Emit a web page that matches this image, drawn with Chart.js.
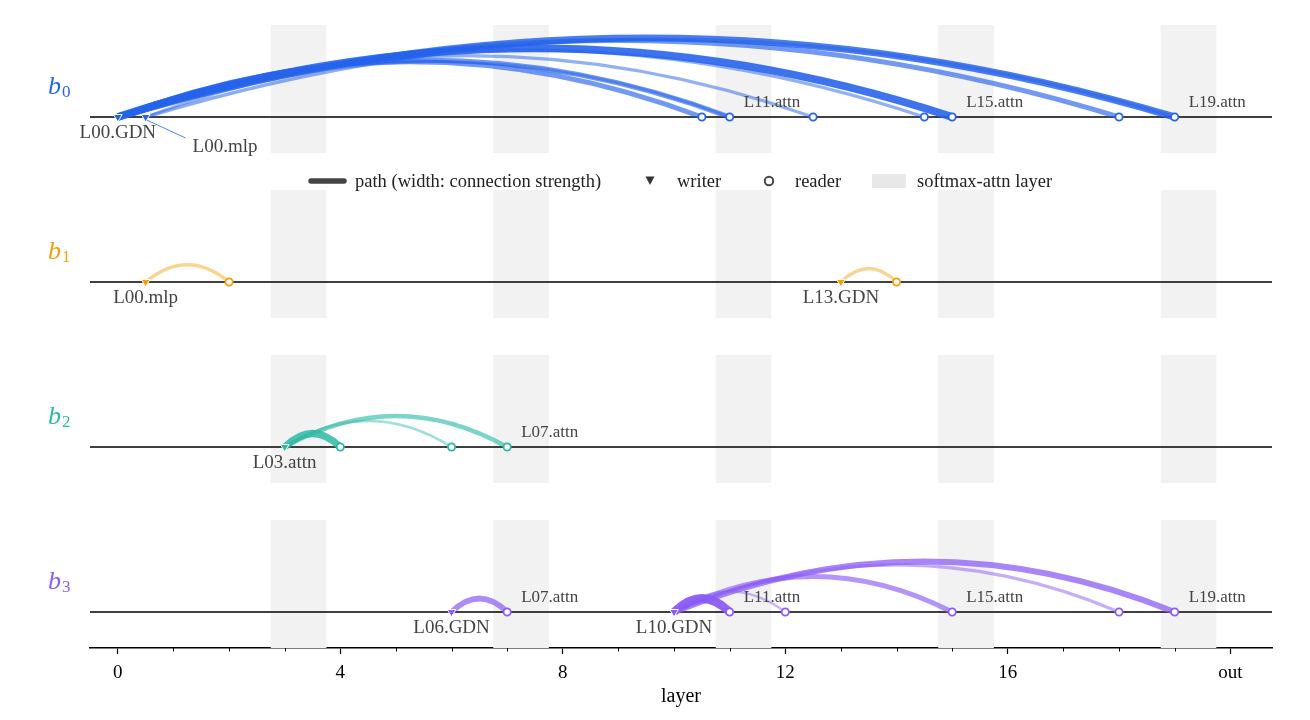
<!DOCTYPE html>
<html>
<head>
<meta charset="utf-8">
<script src="https://cdn.jsdelivr.net/npm/chart.js@4.4.1/dist/chart.umd.min.js"></script>
<style>
html,body{margin:0;padding:0;background:#fff;}
#wrap{width:1310px;height:720px;position:relative;}
</style>
</head>
<body>
<div id="wrap"><canvas id="c"></canvas></div>
<script>
// ---------------- DATA ----------------
const bundleNames = ['b0', 'b1', 'b2', 'b3'];
const softmaxLayers = [3, 7, 11, 15, 19];
const xTickValues = [0, 4, 8, 12, 16, 20];
const xTickLabels = ['0', '4', '8', '12', '16', 'out'];

// writers (position in layer units) and labels
const writerPos = [[0, 0.5], [0.5, 13], [3], [6, 10]];
const writerLabels = [['L00.GDN', 'L00.mlp'], ['L00.mlp', 'L13.GDN'], ['L03.attn'], ['L06.GDN', 'L10.GDN']];

// readers
const readerPos = [[10.5, 11, 12.5, 14.5, 15, 18, 19], [2, 14], [4, 6, 7], [7, 11, 12, 15, 18, 19]];
const readerLabels = [['', 'L11.attn', '', '', 'L15.attn', '', 'L19.attn'], ['', ''], ['', '', 'L07.attn'], ['L07.attn', 'L11.attn', '', 'L15.attn', '', 'L19.attn']];

// paths: from, to, strength (0..1)
const pathFrom = [
  [0, 0, 0, 0, 0, 0, 0, 0.5, 0.5],
  [0.5, 13],
  [3, 3, 3],
  [6, 10, 10, 10, 10, 10]
];
const pathTo = [
  [19, 18, 15, 14.5, 12.5, 11, 10.5, 19, 11],
  [2, 14],
  [4, 7, 6],
  [7, 11, 12, 15, 18, 19]
];
const pathStrength = [
  [0.8, 0.5, 0.9, 0.25, 0.25, 0.5, 0.5, 0.3, 0.2],
  [0.25, 0.25],
  [0.8, 0.45, 0.15],
  [0.6, 1.0, 0.15, 0.5, 0.25, 0.65]
];

// ---------------- STYLE / LAYOUT ----------------
const SERIF = "'Liberation Serif', 'DejaVu Serif', serif";
const colors = ['#2563eb', '#f59e0b', '#2bb8a4', '#8b5cf6'];
const arcAlphaScale = [1, 0.9, 1, 1];
const PANEL_BASE = [531, 366, 201, 36];   // y-units of each panel baseline
const BAND_UP = 92, BAND_DOWN = 36;
const writerLabelShift = {'0-1': [47, 29]};

function hexA(hex, a) {
  const n = parseInt(hex.slice(1), 16);
  return `rgba(${(n >> 16) & 255},${(n >> 8) & 255},${n & 255},${a})`;
}
function arcHeight(d) { return 13.5 * Math.pow(d, 0.6); }

// ---------------- DATASETS ----------------
const datasets = [];
bundleNames.forEach((b, k) => {
  datasets.push({
    label: b + ' readers',
    data: readerPos[k].map(x => ({x, y: PANEL_BASE[k]})),
    pointStyle: 'circle', pointRadius: 3.6, pointBackgroundColor: '#fff',
    pointBorderColor: colors[k], pointBorderWidth: 1.8, showLine: false
  });
  datasets.push({
    label: b + ' writers',
    data: writerPos[k].map(x => ({x, y: PANEL_BASE[k]})),
    pointStyle: 'triangle', rotation: 180, pointRadius: 5, pointBackgroundColor: colors[k],
    pointBorderColor: '#fff', pointBorderWidth: 1, showLine: false
  });
});

const backPlugin = {
  id: 'back',
  beforeDatasetsDraw(chart) {
    const {ctx, chartArea: a, scales: {x, y}} = chart;
    ctx.save();
    // softmax-attn bands
    ctx.fillStyle = '#f2f2f2';
    softmaxLayers.forEach(L => {
      const x0 = x.getPixelForValue(L - 0.25), x1 = x.getPixelForValue(L + 0.75);
      PANEL_BASE.forEach(b => {
        const yt = y.getPixelForValue(b + BAND_UP), yb = y.getPixelForValue(b - BAND_DOWN);
        ctx.fillRect(x0, yt, x1 - x0, yb - yt);
      });
    });
    // baselines
    ctx.strokeStyle = '#000'; ctx.lineWidth = 1.5;
    PANEL_BASE.forEach(b => {
      const py = y.getPixelForValue(b);
      ctx.beginPath(); ctx.moveTo(a.left, py); ctx.lineTo(a.right, py); ctx.stroke();
    });
    // arcs
    bundleNames.forEach((bn, k) => {
      const base = PANEL_BASE[k];
      const order = pathStrength[k].map((s, i) => i).sort((i, j) => pathStrength[k][i] - pathStrength[k][j]);
      order.forEach(i => {
        const s = pathStrength[k][i];
        const x1 = pathFrom[k][i], x2 = pathTo[k][i];
        const h = arcHeight(x2 - x1);
        const p1 = x.getPixelForValue(x1), p2 = x.getPixelForValue(x2);
        const pb = y.getPixelForValue(base);
        const ph = pb - y.getPixelForValue(base + h);
        ctx.strokeStyle = hexA(colors[k], (0.35 + 0.6 * s) * arcAlphaScale[k]);
        ctx.lineWidth = 1.5 + 7 * s;
        ctx.lineCap = 'butt';
        ctx.beginPath();
        ctx.moveTo(p1, pb);
        ctx.quadraticCurveTo((p1 + p2) / 2, pb - 2 * ph, p2, pb);
        ctx.stroke();
      });
    });
    ctx.restore();
  },
  afterDraw(chart) {
    const {ctx, chartArea: a, scales: {x, y}} = chart;
    ctx.save();
    // minor ticks
    ctx.strokeStyle = '#000'; ctx.lineWidth = 1;
    for (let v = 0; v <= 20; v++) {
      if (xTickValues.includes(v)) continue;
      const px = Math.round(x.getPixelForValue(v)) + 0.5;
      ctx.beginPath(); ctx.moveTo(px, a.bottom); ctx.lineTo(px, a.bottom + 3.5); ctx.stroke();
    }
    // node labels
    ctx.fillStyle = '#444';
    bundleNames.forEach((bn, k) => {
      const pb = y.getPixelForValue(PANEL_BASE[k]);
      ctx.font = `19px ${SERIF}`;
      ctx.textBaseline = 'middle';
      writerPos[k].forEach((w, i) => {
        const px = x.getPixelForValue(w);
        const sh = writerLabelShift[k + '-' + i];
        if (sh) {
          ctx.strokeStyle = hexA(colors[k], 0.8); ctx.lineWidth = 1;
          ctx.beginPath(); ctx.moveTo(px + 1, pb + 3); ctx.lineTo(px + sh[0] - 7, pb + sh[1] - 8); ctx.stroke();
          ctx.textAlign = 'left';
          ctx.fillText(writerLabels[k][i], px + sh[0], pb + sh[1] + 1);
        } else {
          ctx.textAlign = 'center';
          ctx.fillText(writerLabels[k][i], px, pb + 16);
        }
      });
      ctx.font = `17px ${SERIF}`;
      ctx.textAlign = 'left';
      readerPos[k].forEach((r, i) => {
        if (!readerLabels[k][i]) return;
        const px = x.getPixelForValue(r);
        ctx.fillText(readerLabels[k][i], px + 14, pb - 14.5);
      });
      // panel label b_k
      ctx.fillStyle = colors[k];
      ctx.textBaseline = 'alphabetic';
      ctx.font = `italic 26px ${SERIF}`;
      ctx.textAlign = 'left';
      ctx.fillText('b', 48, pb - 23);
      ctx.font = `17px ${SERIF}`;
      ctx.fillText(bn.slice(1), 62, pb - 20);
      ctx.fillStyle = '#444';
    });
    // legend
    const ly = y.getPixelForValue(PANEL_BASE[0] - 64);
    ctx.textBaseline = 'middle';
    ctx.strokeStyle = '#444'; ctx.lineWidth = 5.5; ctx.lineCap = 'round';
    ctx.beginPath(); ctx.moveTo(311, ly); ctx.lineTo(344, ly); ctx.stroke();
    ctx.fillStyle = '#222'; ctx.font = `18.5px ${SERIF}`; ctx.textAlign = 'left';
    ctx.fillText('path (width: connection strength)', 355, ly + 1);
    ctx.fillStyle = '#333';
    ctx.beginPath(); ctx.moveTo(645.5, ly - 4.5); ctx.lineTo(654.5, ly - 4.5); ctx.lineTo(650, ly + 4); ctx.closePath(); ctx.fill();
    ctx.fillStyle = '#222';
    ctx.fillText('writer', 677, ly + 1);
    ctx.strokeStyle = '#444'; ctx.lineWidth = 2;
    ctx.beginPath(); ctx.arc(769, ly, 4.2, 0, Math.PI * 2); ctx.stroke();
    ctx.fillText('reader', 795, ly + 1);
    ctx.fillStyle = '#e8e8e8';
    ctx.fillRect(872, ly - 7, 34, 14);
    ctx.fillStyle = '#222';
    ctx.fillText('softmax-attn layer', 917, ly + 1);
    ctx.restore();
  }
};

new Chart(document.getElementById('c'), {
  type: 'scatter',
  data: {datasets},
  options: {
    responsive: true, maintainAspectRatio: false, animation: false,
    devicePixelRatio: 1,
    layout: {padding: {left: 90, right: 38, top: 25, bottom: 0}},
    plugins: {legend: {display: false}, tooltip: {enabled: false}},
    scales: {
      x: {
        type: 'linear', min: -0.5, max: 20.75,
        afterBuildTicks: s => { s.ticks = xTickValues.map(v => ({value: v})); },
        afterFit: s => { s.height = 72; },
        ticks: {
          callback: v => xTickLabels[xTickValues.indexOf(v)],
          font: {family: SERIF, size: 19}, color: '#000', padding: 8, maxRotation: 0, autoSkip: false
        },
        grid: {drawOnChartArea: false, drawTicks: true, tickLength: 6, color: '#000', tickWidth: 1.2},
        border: {display: true, color: '#000', width: 1.5},
        title: {display: true, text: 'layer', font: {family: SERIF, size: 20}, color: '#000', padding: {top: 0, bottom: 11}}
      },
      y: {display: false, min: 0, max: 623}
    }
  },
  plugins: [backPlugin]
});
</script>
</body>
</html>
